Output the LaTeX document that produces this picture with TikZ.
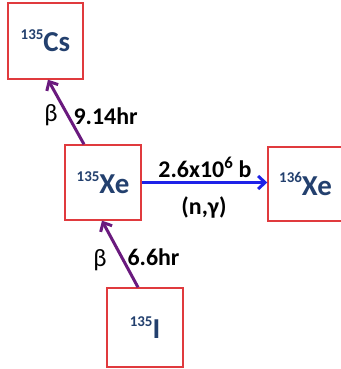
\documentclass[tikz,border=0pt]{standalone}
\usepackage{fontspec}
\setmainfont{Carlito}
\usetikzlibrary{arrows.meta}
\newcommand{\nuc}[2]{\raisebox{0.42em}{\fontsize{15}{15}\selectfont #1}#2}
\definecolor{boxred}{HTML}{E03A3E}
\definecolor{nucblue}{HTML}{23406E}
\definecolor{decaypurple}{HTML}{6A1A7E}
\definecolor{captureblue}{HTML}{1E22E8}

\begin{document}
\begin{tikzpicture}[
  x=1bp,
  y=-1bp,
  every node/.style={font=\fontsize{24}{26}\selectfont\bfseries, black},
  nucbox/.style={draw=boxred, fill=white, line width=1.4bp, inner sep=0pt,
    text=nucblue, font=\fontsize{29}{30}\selectfont\bfseries},
  decay/.style={decaypurple, line width=3bp, -{Straight Barb[length=7bp, width=13bp]}},
  capture/.style={captureblue, line width=3bp, -{Straight Barb[length=7bp, width=13bp]}},
  beta/.style={font=\fontsize{25}{26}\selectfont}
]
  \useasboundingbox (0,0) rectangle (341,369);

  % ---- the four nuclides -----------------------------------------------
  \node[nucbox, minimum width=75bp, minimum height=76bp] (cs) at (45.5,41) {\nuc{135}{Cs}};
  \node[nucbox, minimum width=76bp, minimum height=75bp] (xefive) at (103,182.5) {\nuc{135}{Xe}};
  \node[nucbox, minimum width=75bp, minimum height=74bp] (xesix) at (305.5,184) {\nuc{136}{Xe}};
  \node[nucbox, minimum width=76bp, minimum height=79bp] (iod) at (145,327.5) {\nuc{135}{I}};

  % ---- beta decays -----------------------------------------------------
  \draw[decay] ([xshift=-19bp]xefive.north) -- ([xshift=2.5bp]cs.south);
  \draw[decay] ([xshift=-7bp]iod.north) -- ([xshift=-1bp]xefive.south);
  \node[beta] (betaup) at (51,115) {β};
  \node[anchor=west] (halfup) at (70,116) {9.14hr};
  \node[beta] (betalow) at (100,260) {β};
  \node[anchor=west] (halflow) at (124,257) {6.6hr};

  % ---- neutron capture -------------------------------------------------
  \draw[capture] (xefive.east) -- (xefive.east -| xesix.west);
  \node (sigma) at (205,167) {2.6x10\textsuperscript{6} b};
  \node (ngamma) at (204,207) {(n,γ)};
\end{tikzpicture}
\end{document}
